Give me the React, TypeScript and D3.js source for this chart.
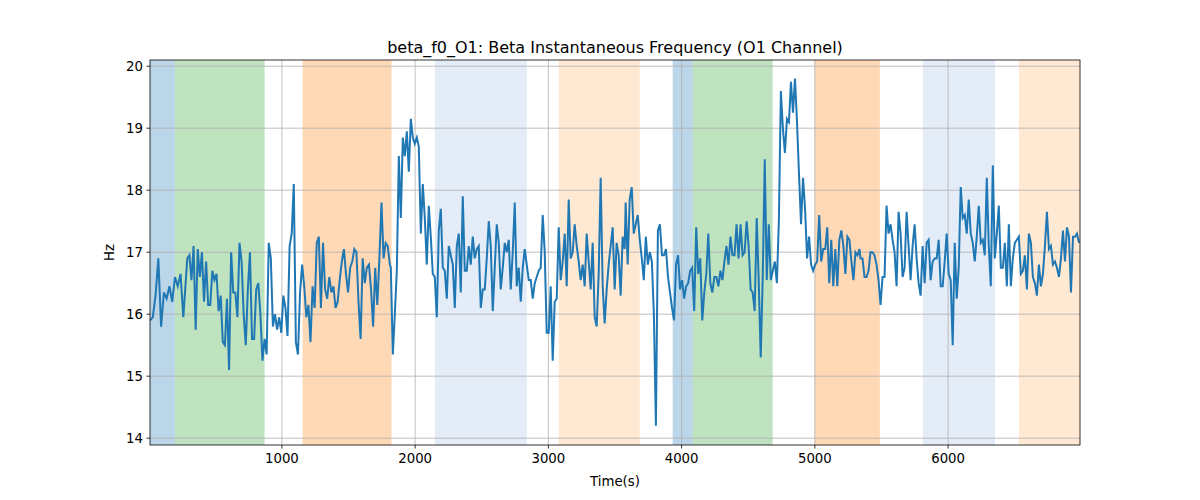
import React from "react";
import * as d3 from "d3";

const title = "beta_f0_O1: Beta Instantaneous Frequency (O1 Channel)";
const xTicks = [1000, 2000, 3000, 4000, 5000, 6000];
const yTicks = [14, 15, 16, 17, 18, 19, 20];

const spans: [number, number, string, number][] = [
  [10, 197, "#1f77b4", 0.3],
  [197, 870, "#2ca02c", 0.3],
  [1155, 1823, "#ff7f0e", 0.3],
  [2148, 2838, "#aec7e8", 0.33],
  [3078, 3686, "#ffbb78", 0.33],
  [3933, 4083, "#1f77b4", 0.3],
  [4083, 4683, "#2ca02c", 0.3],
  [5000, 5488, "#ff7f0e", 0.3],
  [5811, 6352, "#aec7e8", 0.33],
  [6532, 6990, "#ffbb78", 0.33],
];

const seg1a = [15.9,15.95,16.3,16.9,15.8,16.35,16.25,16.45,16.2,16.6,16.45,16.65,15.95];
const seg1b = [16.9,16.95,16.55,17.1,15.75,17.05,16.6,17.0,16.2,16.85,16.15,16.15,16.7,16.55,16.65,16.05,16.3,15.55,15.5,16.25,15.1,17.0,16.35,16.35,15.95,17.15,16.85,16.0,15.5,16.4,17.0,15.6,15.6,16.4,16.5,16.0,15.25,15.6,15.35,17.15,16.9,15.8,16.0,15.75,15.95,15.7,16.3,16.1,15.65,17.1,17.3,18.1,15.55,15.35,16.35,16.8,16.45,15.95,16.15,15.55,16.45,16.1,17.15,17.25,16.1,17.15,16.4,16.25,16.6,16.35,16.45,16.1,16.2,16.55,16.85,17.05,16.65,16.35,16.75,16.85,17.05,17.0,16.2,15.6,16.9,16.5,16.75,16.8,16.4,15.8,16.75,16.15,16.9,17.8,16.9,17.15,17.1,16.8];
const seg2 = [16.75,15.35,16.0,16.7,18.55,17.55,18.85,18.55,18.95,18.3,19.15,18.85,18.75,18.85,18.7,17.3,18.1,17.55,16.8,17.75,17.25,16.65,16.6,15.95,17.35,17.7,16.75,16.7,16.25,17.1,16.95,16.8,16.1,17.1,17.3,16.35,17.9,16.7,16.7,17.1,16.8,17.25,16.9,17.05,17.1,16.1,16.4,16.4,16.9,17.5,17.1,16.05,16.75,17.45,17.15,16.4,16.75,17.15,17.0,17.2,16.4,17.0,17.8,16.45,16.75,16.2,16.75,17.05,16.8,16.55,16.55,16.25,16.5,16.6,16.7,16.75,17.6,17.0,15.7,15.7,16.45,15.25,16.2,16.25,17.4,16.55,16.85,17.3,16.45,17.85,16.9,17.0,17.45,17.1,16.85,16.55,16.8,16.45,17.3,16.85,16.4,17.15,15.95,15.8,16.65,18.2,16.45,15.85,16.4,16.8,17.1,17.4,16.4,17.15,16.95,16.3,17.25,17.05];
const seg3 = [17.8,16.8,17.85,18.05,17.3,17.45,17.6,17.2,16.9,16.55,17.25,16.8,17.0,16.85,16.0,14.2,17.35,17.45,16.95,16.95,17.05,16.6,16.35,16.1,15.9,16.8,16.95,16.4,16.55,16.25,16.45,16.5,16.7,16.75,16.05,17.4,16.65,16.9,15.9,16.35,16.65,17.3,16.5,16.35,16.6,16.6,16.45,16.7,16.55,16.85,17.1,16.8,17.25,16.95,16.95,17.45,16.9,17.45,16.95,17.0,17.5,17.1,16.4,16.35,16.05,17.55,16.55,15.3,16.6,18.5,16.55,17.45,16.55,16.7,16.85,16.5,17.5,19.6,19.0,18.6,19.15,19.1,19.75,19.25,19.8,19.1,18.25,17.45,18.2,17.7,16.9,17.25,16.8,16.7,16.8,16.85,17.6,16.85,17.05,17.05,17.4,16.5,17.2,16.45,17.05,16.45,17.2,17.35,17.1,16.65,17.25,17.2,16.85,16.55,17.0,16.95,17.05];
const seg4 = [16.9,16.9,16.6,16.6,16.7,17.0,17.0,16.95,16.8,16.55,16.15,16.6,16.6,17.75,17.3,17.45,17.2,17.0,16.45,17.65,17.3,16.6,16.75,17.65,17.1,16.55,17.1,17.45,16.9,16.5,16.3,17.1,16.5,17.15,17.2,16.55,16.85,16.9,16.9,17.2,16.45,16.45,16.85,17.3,16.65,16.55,15.5,17.15,16.25,16.75,18.05,17.55,17.6,17.3,17.85,17.3,17.15,16.85,17.25,17.75,17.15,17.2,16.95,18.2,17.1,16.45,18.4,16.9,17.3,17.75,16.75,16.75,17.15,16.45,17.45,16.45,16.9,17.15,17.2,17.25,16.65,16.7,16.95,16.4,17.3,17.15,16.6,16.5,16.3,16.8,16.45,16.65,17.1,17.65,17.05,17.1,16.8,16.85,16.75,16.6,16.9,17.35,16.85,17.4,17.25,16.35,17.25,17.25,17.3,17.15];
const segRanges: [number, number][] = [[10, 260], [290, 1810], [1817.5, 3572.5], [3580, 5335], [5342.5, 6982.5]];

export default function App() {
  const W = 1200, H = 500;
  const m = { l: 150, r: 1080, t: 60, b: 445 };
  const x = d3.scaleLinear().domain([10, 6990]).range([m.l, m.r]);
  const y = d3.scaleLinear().domain([13.89, 20.1]).range([m.b, m.t]);
  const pts: [number, number][] = [];
  [seg1a, seg1b, seg2, seg3, seg4].forEach((s, i) => {
    const [a, b] = segRanges[i];
    s.forEach((v, j) => pts.push([a + ((b - a) * j) / (s.length - 1), v]));
  });
  const line = d3.line<[number, number]>().x(d => x(d[0])).y(d => y(d[1]));
  const font = "DejaVu Sans, sans-serif";
  return (
    <svg width={W} height={H} style={{ position: "absolute", left: 0, top: 0, background: "#fff" }} fontFamily={font}>
      <defs><clipPath id="c"><rect x={m.l} y={m.t} width={m.r - m.l} height={m.b - m.t} /></clipPath></defs>
      {spans.map(([a, b, c, o], i) => (
        <rect key={i} x={x(a)} y={m.t} width={x(b) - x(a)} height={m.b - m.t} fill={c} fillOpacity={o} />
      ))}
      {xTicks.map(t => <line key={t} x1={x(t)} x2={x(t)} y1={m.t} y2={m.b} stroke="#b0b0b0" strokeWidth={0.8} />)}
      {yTicks.map(t => <line key={t} x1={m.l} x2={m.r} y1={y(t)} y2={y(t)} stroke="#b0b0b0" strokeWidth={0.8} />)}
      <path d={line(pts) || ""} fill="none" stroke="#1f77b4" strokeWidth={2} clipPath="url(#c)" />
      <rect x={m.l} y={m.t} width={m.r - m.l} height={m.b - m.t} fill="none" stroke="#000" strokeWidth={0.8} />
      {xTicks.map(t => (
        <g key={t}>
          <line x1={x(t)} x2={x(t)} y1={m.b} y2={m.b + 3.5} stroke="#000" strokeWidth={0.8} />
          <text x={x(t)} y={m.b + 18} fontSize={13.3} textAnchor="middle">{t}</text>
        </g>
      ))}
      {yTicks.map(t => (
        <g key={t}>
          <line x1={m.l - 3.5} x2={m.l} y1={y(t)} y2={y(t)} stroke="#000" strokeWidth={0.8} />
          <text x={m.l - 7} y={y(t) + 4.8} fontSize={13.3} textAnchor="end">{t}</text>
        </g>
      ))}
      <text x={(m.l + m.r) / 2} y={m.t - 7} fontSize={16} textAnchor="middle">{title}</text>
      <text x={(m.l + m.r) / 2} y={486} fontSize={13.3} textAnchor="middle">Time(s)</text>
      <text transform={`translate(114,${(m.t + m.b) / 2}) rotate(-90)`} fontSize={13.3} textAnchor="middle">Hz</text>
    </svg>
  );
}
